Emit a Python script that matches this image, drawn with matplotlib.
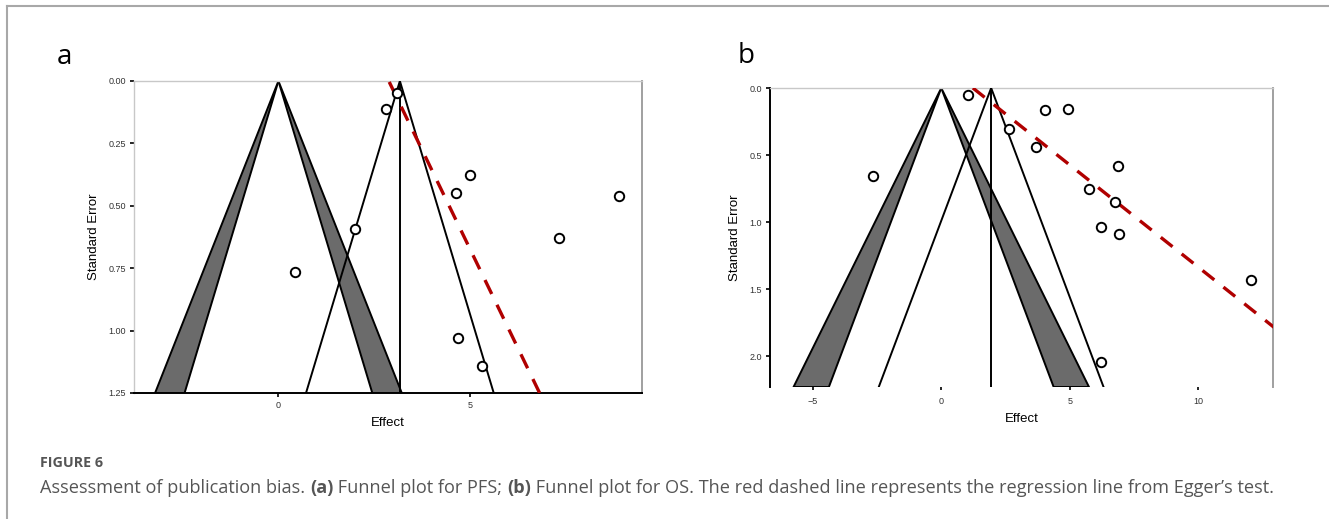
import matplotlib
matplotlib.use("Agg")
import matplotlib.pyplot as plt
from matplotlib.lines import Line2D
from matplotlib.patches import Polygon
import numpy as np

# ---------------- data ----------------
pfs_effect = [3.10, 2.81, 5.01, 4.63, 8.89, 2.01, 7.32, 0.42, 4.70, 5.31]
pfs_se = [0.047, 0.114, 0.378, 0.449, 0.462, 0.593, 0.630, 0.766, 1.029, 1.143]
pfs_estimate = 3.17
pfs_egger = (2.88, 3.15)      # x at SE=0, slope dx/dSE

os_effect = [1.03, 4.04, 4.93, 2.65, 3.67, -2.67, 6.86, 5.75, 6.75, 6.23, 6.93, 12.04, 6.21]
os_se = [0.055, 0.161, 0.154, 0.303, 0.44, 0.658, 0.581, 0.750, 0.850, 1.036, 1.091, 1.429, 2.047]
os_estimate = 1.94
os_egger = (1.23, 6.56)

pfs_xticks = [0, 5]
pfs_yticks = [0.00, 0.25, 0.50, 0.75, 1.00, 1.25]
os_xticks = [-5, 0, 5, 10]
os_yticks = [0.0, 0.5, 1.0, 1.5, 2.0]

z95, z99 = 1.96, 2.576

W, H = 1329, 519
fig = plt.figure(figsize=(W / 100, H / 100), dpi=100)
CHART_FONT = ["Liberation Sans", "DejaVu Sans"]
CAP_FONT = ["Open Sans", "DejaVu Sans"]


def ax_rect(l, t, r, b):
    return [l / W, 1 - b / H, (r - l) / W, (b - t) / H]


def funnel(ax, effect, se, est, egger, xlim, ymax, xticks, yticks, yfmt, left_black, bottom_black,
           egger_from_bottom, dash):
    ax.set_xlim(*xlim)
    ax.set_ylim(ymax, 0)
    # shaded contours around 0
    for sgn in (-1, 1):
        poly = Polygon([(0, 0), (sgn * z95 * ymax, ymax), (sgn * z99 * ymax, ymax)],
                       closed=True, facecolor="#6b6b6b", edgecolor="black", lw=1.4, zorder=2,
                       clip_on=True)
        ax.add_patch(poly)
    # estimate funnel
    ax.plot([est - z95 * ymax, est, est + z95 * ymax], [ymax, 0, ymax], color="black", lw=1.4,
            zorder=3, solid_joinstyle="miter")
    ax.plot([est, est], [0, ymax], color="black", lw=1.4, zorder=3)
    # Egger line
    yy = np.array([ymax, 0.0]) if egger_from_bottom else np.array([0.0, ymax * 1.2])
    ax.plot(egger[0] + egger[1] * yy, yy, color="#b00000", lw=2.4, ls=(0, dash), zorder=4)
    # points
    ax.scatter(effect, se, s=46, facecolor="white", edgecolor="black", linewidths=1.4, zorder=5)

    for side in ("top", "right", "left", "bottom"):
        ax.spines[side].set_color("#c8c8c8")
        ax.spines[side].set_linewidth(1.0)
    ax.spines["right"].set_color("#a0a0a0")
    ax.spines["right"].set_linewidth(1.4)
    if left_black:
        ax.spines["left"].set_color("black")
        ax.spines["left"].set_linewidth(1.4)
    if bottom_black:
        ax.spines["bottom"].set_color("black")
        ax.spines["bottom"].set_linewidth(1.4)
    else:
        ax.spines["bottom"].set_visible(False)

    ax.set_xticks(xticks)
    ax.set_xticklabels([str(t).replace("-", "\u2212") for t in xticks])
    ax.set_yticks(yticks)
    ax.set_yticklabels([yfmt.format(t) for t in yticks])
    ax.tick_params(axis="both", labelsize=6.5, labelcolor="#333333", color="black",
                   length=3, width=1.2, pad=3)
    for lab in ax.get_xticklabels() + ax.get_yticklabels():
        lab.set_family(CHART_FONT)
    ax.set_xlabel("Effect", fontsize=9.5, family=CHART_FONT, labelpad=5)
    ax.set_ylabel("Standard Error", fontsize=9.5, family=CHART_FONT, labelpad=6)


ax1 = fig.add_axes(ax_rect(134, 81, 642, 393))
funnel(ax1, pfs_effect, pfs_se, pfs_estimate, pfs_egger, (-3.77, 9.49), 1.25,
       pfs_xticks, pfs_yticks, "{:.2f}", left_black=False, bottom_black=True,
       egger_from_bottom=True, dash=(4.65, 3.6))

ax2 = fig.add_axes(ax_rect(770, 88, 1273, 387))
funnel(ax2, os_effect, os_se, os_estimate, os_egger, (-6.66, 12.9), 2.23,
       os_xticks, os_yticks, "{:.1f}", left_black=True, bottom_black=False,
       egger_from_bottom=False, dash=(4.5, 3.5))
ax2.tick_params(axis="x", length=2, pad=5)

# panel letters
fig.text(57 / W, 1 - 57 / H, "a", fontsize=20, family=CAP_FONT, va="center", ha="left")
fig.text(738 / W, 1 - 56 / H, "b", fontsize=20, family=CAP_FONT, va="center", ha="left")

# figure frame
fig.add_artist(Line2D([7 / W, 7 / W], [0, 1 - 6 / H], transform=fig.transFigure,
                      color="#a8a8a8", lw=1.5))
fig.add_artist(Line2D([7 / W, 1], [1 - 6 / H, 1 - 6 / H], transform=fig.transFigure,
                      color="#a8a8a8", lw=1.5))

# caption
fig.text(40 / W, 1 - 463 / H, "FIGURE 6", fontsize=10.3, fontweight="bold", family=CAP_FONT,
         color="#555555", va="center", ha="left")

segments = [("Assessment of publication bias. ", "normal"), ("(a)", "bold"),
            (" Funnel plot for PFS; ", "normal"), ("(b)", "bold"),
            (" Funnel plot for OS. The red dashed line represents the regression line from Egger\u2019s test.", "normal")]
fig.canvas.draw()
renderer = fig.canvas.get_renderer()
x = 40 / W
for txt, wt in segments:
    t = fig.text(x, 1 - 488 / H, txt, fontsize=13.1, fontweight=wt, family=CAP_FONT,
                 color="#555555", va="center", ha="left")
    bb = t.get_window_extent(renderer=renderer)
    x += bb.width / W

fig.savefig("out.png", dpi=100)
